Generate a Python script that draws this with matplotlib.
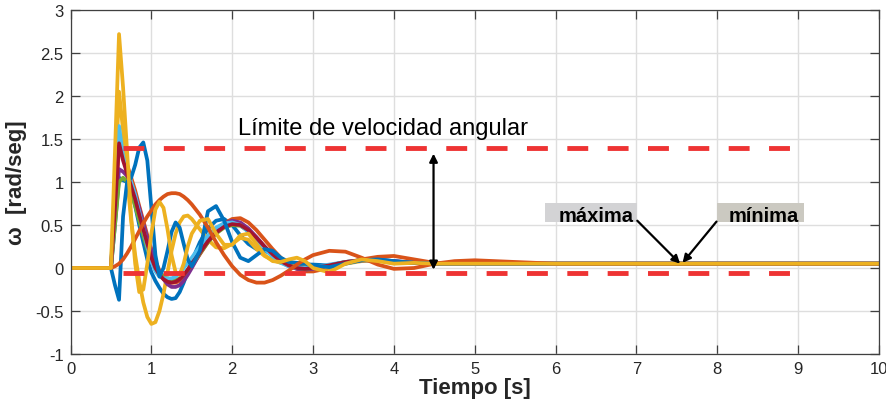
import matplotlib
matplotlib.use("Agg")
import matplotlib.pyplot as plt
from matplotlib.patches import Rectangle

plt.rcParams['font.family'] = ['Liberation Sans', 'DejaVu Sans']

# tiempo [s]
t = [0, 0.5, 0.55, 0.6, 0.65, 0.7, 0.75, 0.8, 0.85, 0.9, 0.95, 1.0, 1.05, 1.1, 1.15, 1.2,
     1.25, 1.3, 1.35, 1.4, 1.45, 1.5, 1.6, 1.7, 1.8, 1.9, 2.0, 2.1, 2.2, 2.3, 2.4, 2.5,
     2.6, 2.7, 2.8, 2.9, 3.0, 3.2, 3.4, 3.6, 3.8, 4.0, 4.25, 4.5, 4.75, 5.0, 5.5, 6.0,
     7.0, 8.0, 9.0, 10.0]

# omega [rad/seg] de cada simulacion
w_azul1 = [0, 0, 0.5, 1.05, 1.02, 1.0, 0.9, 0.72, 0.5, 0.3, 0.1, -0.05, -0.15, -0.23, -0.3, -0.34,
           -0.36, -0.35, -0.28, -0.17, -0.04, 0.08, 0.3, 0.46, 0.55, 0.57, 0.5, 0.38, 0.28, 0.22, 0.2, 0.16,
           0.11, 0.07, 0.05, 0.04, 0.04, 0.03, 0.06, 0.09, 0.1, 0.08, 0.06, 0.05, 0.05, 0.05, 0.05, 0.05,
           0.05, 0.05, 0.05, 0.05]
w_naranja1 = [0, 0, 0.7, 1.4, 1.3, 1.2, 1.05, 0.9, 0.72, 0.55, 0.38, 0.22, 0.08, -0.03, -0.1, -0.15,
              -0.17, -0.17, -0.15, -0.1, -0.04, 0.02, 0.16, 0.3, 0.42, 0.52, 0.57, 0.58, 0.53, 0.44, 0.33, 0.22,
              0.12, 0.04, -0.01, -0.04, -0.04, 0.0, 0.06, 0.1, 0.13, 0.14, 0.1, 0.06, 0.05, 0.05, 0.05, 0.05,
              0.05, 0.05, 0.05, 0.05]
w_amarillo1 = [0, 0, 1.0, 2.05, 1.6, 1.05, 0.55, 0.15, -0.15, -0.4, -0.57, -0.65, -0.63, -0.5, -0.3, -0.05,
               0.2, 0.4, 0.53, 0.6, 0.61, 0.57, 0.45, 0.33, 0.24, 0.23, 0.28, 0.35, 0.33, 0.22, 0.14, 0.09,
               0.06, 0.05, 0.06, 0.05, 0.02, 0.0, 0.05, 0.08, 0.09, 0.07, 0.06, 0.05, 0.05, 0.05, 0.05, 0.05,
               0.05, 0.05, 0.05, 0.05]
w_morado = [0, 0, 0.6, 1.15, 1.12, 1.07, 0.98, 0.85, 0.7, 0.52, 0.35, 0.2, 0.07, -0.05, -0.13, -0.19,
            -0.22, -0.22, -0.2, -0.15, -0.08, 0.0, 0.17, 0.32, 0.44, 0.52, 0.55, 0.53, 0.46, 0.36, 0.25, 0.15,
            0.07, 0.02, -0.01, -0.02, -0.01, 0.03, 0.07, 0.09, 0.09, 0.08, 0.06, 0.05, 0.05, 0.05, 0.05, 0.05,
            0.05, 0.05, 0.05, 0.05]
w_verde = [0, 0, 0.5, 1.0, 1.05, 1.0, 0.88, 0.72, 0.55, 0.38, 0.22, 0.1, 0.0, -0.06, -0.1, -0.13,
           -0.14, -0.14, -0.12, -0.08, -0.02, 0.04, 0.17, 0.3, 0.4, 0.47, 0.5, 0.49, 0.43, 0.34, 0.24, 0.15,
           0.08, 0.03, 0.0, -0.01, 0.0, 0.03, 0.07, 0.09, 0.09, 0.07, 0.06, 0.05, 0.05, 0.05, 0.05, 0.05,
           0.05, 0.05, 0.05, 0.05]
w_celeste = [0, 0, 0.8, 1.65, 1.3, 1.15, 1.0, 0.85, 0.65, 0.45, 0.25, 0.08, -0.04, -0.1, -0.12, -0.12,
             -0.12, -0.1, -0.06, 0.0, 0.06, 0.12, 0.25, 0.38, 0.47, 0.52, 0.53, 0.5, 0.42, 0.32, 0.22, 0.13,
             0.06, 0.02, 0.0, 0.0, 0.01, 0.04, 0.07, 0.09, 0.09, 0.07, 0.06, 0.05, 0.05, 0.05, 0.05, 0.05,
             0.05, 0.05, 0.05, 0.05]
w_granate = [0, 0, 0.7, 1.45, 1.25, 1.1, 0.95, 0.8, 0.62, 0.45, 0.28, 0.12, 0.0, -0.08, -0.13, -0.16,
             -0.17, -0.16, -0.13, -0.08, -0.02, 0.05, 0.18, 0.31, 0.41, 0.48, 0.51, 0.5, 0.44, 0.35, 0.25, 0.16,
             0.08, 0.03, 0.0, -0.01, 0.0, 0.03, 0.07, 0.09, 0.09, 0.07, 0.06, 0.05, 0.05, 0.05, 0.05, 0.05,
             0.05, 0.05, 0.05, 0.05]
w_azul2 = [0, 0, -0.2, -0.37, 0.6, 1.0, 1.05, 1.2, 1.4, 1.46, 1.25, 0.7, 0.15, -0.1, 0.0, 0.2,
           0.42, 0.53, 0.47, 0.28, 0.1, 0.02, 0.2, 0.66, 0.72, 0.55, 0.3, 0.12, 0.08, 0.15, 0.22, 0.2,
           0.12, 0.07, 0.06, 0.05, 0.03, 0.01, 0.05, 0.09, 0.1, 0.08, 0.06, 0.05, 0.05, 0.05, 0.05, 0.05,
           0.05, 0.05, 0.05, 0.05]
w_naranja2 = [0, 0, 0.02, 0.05, 0.1, 0.17, 0.25, 0.34, 0.43, 0.52, 0.6, 0.67, 0.74, 0.79, 0.83, 0.86,
              0.87, 0.87, 0.86, 0.83, 0.79, 0.74, 0.62, 0.47, 0.3, 0.15, 0.02, -0.08, -0.14, -0.17, -0.17, -0.14,
              -0.09, -0.03, 0.04, 0.1, 0.15, 0.2, 0.19, 0.12, 0.04, -0.01, 0.0, 0.05, 0.08, 0.09, 0.07, 0.05,
              0.05, 0.05, 0.05, 0.05]
w_amarillo2 = [0, 0, 1.35, 2.72, 2.1, 1.35, 0.6, 0.05, -0.28, -0.25, 0.05, 0.4, 0.68, 0.77, 0.7, 0.45,
               0.15, -0.05, -0.08, 0.05, 0.25, 0.4, 0.55, 0.57, 0.4, 0.27, 0.27, 0.38, 0.4, 0.28, 0.15, 0.08,
               0.07, 0.1, 0.12, 0.08, 0.0, -0.05, 0.05, 0.1, 0.08, 0.05, 0.06, 0.05, 0.05, 0.05, 0.05, 0.05,
               0.05, 0.05, 0.05, 0.05]

series = [w_azul1, w_naranja1, w_amarillo1, w_morado, w_verde, w_celeste, w_granate,
          w_azul2, w_naranja2, w_amarillo2]
colores = ['#0072BD', '#D95319', '#EDB120', '#7E2F8E', '#77AC30', '#4DBEEE', '#A2142F',
           '#0072BD', '#D95319', '#EDB120']

# limites de velocidad angular
lim_sup = 1.4
lim_inf = -0.06
t_lim = [0.65, 9.1]

fig = plt.figure(figsize=(8.87, 4.02), dpi=100)
ax = fig.add_axes([0.0795, 0.1169, 0.9115, 0.8557])

for w, c in zip(series, colores):
    ax.plot(t, w, color=c, linewidth=2.7, solid_joinstyle='round', solid_capstyle='round')

ax.plot(t_lim, [lim_sup, lim_sup], color='#EE3333', linewidth=3.5, dashes=(4.3, 4.0),
        dash_capstyle='butt', zorder=5)
ax.plot(t_lim, [lim_inf, lim_inf], color='#EE3333', linewidth=3.5, dashes=(4.3, 4.0),
        dash_capstyle='butt', zorder=5)

ax.text(2.07, 1.56, 'Límite de velocidad angular', fontsize=17, color='k', zorder=6)
ax.annotate('', xy=(4.49, -0.02), xytext=(4.49, 1.33),
            arrowprops=dict(arrowstyle='<|-|>', color='k', lw=1.6, mutation_scale=12,
                            shrinkA=0, shrinkB=0), zorder=6)

# cajas de texto
ax.add_patch(Rectangle((5.87, 0.535), 1.14, 0.221, facecolor='#d3d3d5', edgecolor='none', zorder=6))
ax.add_patch(Rectangle((7.99, 0.535), 1.08, 0.221, facecolor='#cbc9c1', edgecolor='none', zorder=6))
ax.text(6.97, 0.55, 'máxima', fontsize=14.5, fontweight='bold', ha='right', va='baseline', zorder=7)
ax.text(8.14, 0.55, 'mínima', fontsize=14.5, fontweight='bold', ha='left', va='baseline', zorder=7)
ax.annotate('', xy=(7.54, 0.05), xytext=(7.01, 0.55),
            arrowprops=dict(arrowstyle='-|>', color='k', lw=1.6, mutation_scale=12,
                            shrinkA=0, shrinkB=0), zorder=7)
ax.annotate('', xy=(7.57, 0.06), xytext=(7.99, 0.54),
            arrowprops=dict(arrowstyle='-|>', color='k', lw=1.6, mutation_scale=12,
                            shrinkA=0, shrinkB=0), zorder=7)

ax.set_xlim(0, 10)
ax.set_ylim(-1, 3)
ax.set_xticks(range(0, 11))
ax.set_yticks([-1, -0.5, 0, 0.5, 1, 1.5, 2, 2.5, 3])
ax.set_yticklabels(['-1', '-0.5', '0', '0.5', '1', '1.5', '2', '2.5', '3'])
ax.tick_params(direction='in', length=6.5, width=0.9, color='#404040', labelsize=12,
               labelcolor='#262626', top=True, right=True, pad=5)
ax.grid(True, color='#dedede', linewidth=1)
ax.set_axisbelow(True)
for s in ax.spines.values():
    s.set_color('#404040')
    s.set_linewidth(0.9)

ax.set_xlabel('Tiempo [s]', fontsize=16, fontweight='bold', color='#262626', labelpad=1)
ax.set_ylabel('\u03c9  [rad/seg]', fontsize=16, fontweight='bold', color='#262626', labelpad=6)

fig.savefig('out.png', dpi=100)
